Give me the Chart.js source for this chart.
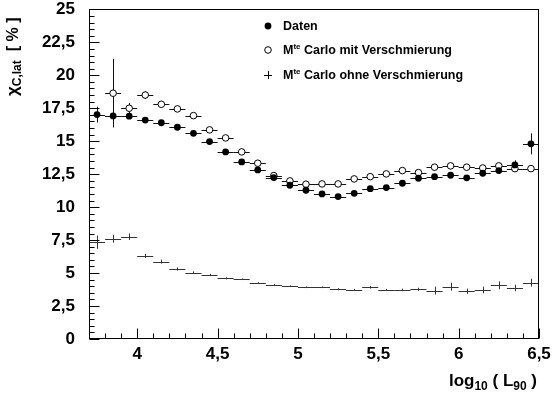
<!DOCTYPE html>
<html>
<head>
<meta charset="utf-8">
<script src="https://cdn.jsdelivr.net/npm/chart.js@4.4.1/dist/chart.umd.min.js"></script>
<style>
  html, body { margin: 0; padding: 0; background: #fff; }
  #chart { display: block; }
</style>
</head>
<body>
<canvas id="chart" width="552" height="397"></canvas>
<script>
// Bin centres of log10(L90), bin width 0.1
const binCenters = [3.75, 3.85, 3.95, 4.05, 4.15, 4.25, 4.35, 4.45, 4.55, 4.65,
                    4.75, 4.85, 4.95, 5.05, 5.15, 5.25, 5.35, 5.45, 5.55, 5.65,
                    5.75, 5.85, 5.95, 6.05, 6.15, 6.25, 6.35, 6.45];
const binHalfWidth = 0.05;

const daten = [17.02, 16.92, 16.9, 16.6, 16.4, 16.06, 15.6, 14.97, 14.19, 13.43,
               12.82, 12.24, 11.66, 11.28, 11.0, 10.8, 11.05, 11.4, 11.48, 11.81,
               12.19, 12.31, 12.42, 12.22, 12.57, 12.77, 13.2, 14.8];
const datenErr = [0.6, 0.2, 0.15, 0.12, 0.12, 0.12, 0.12, 0.12, 0.12, 0.12,
                  0.12, 0.12, 0.12, 0.12, 0.12, 0.12, 0.12, 0.12, 0.15, 0.15,
                  0.15, 0.15, 0.18, 0.2, 0.2, 0.25, 0.35, 0.8];

const mcMit = [null, 18.64, 17.5, 18.5, 17.8, 17.45, 16.94, 15.86, 15.25, 14.19,
               13.33, 12.39, 11.99, 11.74, 11.76, 11.76, 12.14, 12.31, 12.52, 12.77,
               12.62, 13.03, 13.13, 13.03, 12.97, 13.13, 12.92, 12.92];
const mcMitErr = [0, 2.6, 0.4, 0.3, 0.15, 0.15, 0.12, 0.12, 0.12, 0.12,
                  0.12, 0.12, 0.12, 0.12, 0.12, 0.12, 0.12, 0.12, 0.12, 0.12,
                  0.12, 0.12, 0.12, 0.12, 0.12, 0.12, 0.12, 0.12];

const mcOhne = [7.34, 7.61, 7.76, 6.3, 5.87, 5.31, 5.03, 4.86, 4.6, 4.53,
                4.25, 4.12, 4.0, 3.92, 3.92, 3.77, 3.72, 3.92, 3.72, 3.72,
                3.77, 3.67, 3.97, 3.62, 3.72, 4.07, 3.87, 4.27];
const mcOhneErr = [0.5, 0.3, 0.25, 0.15, 0.15, 0.12, 0.1, 0.08, 0.08, 0.06,
                   0.06, 0.06, 0.06, 0.06, 0.06, 0.08, 0.08, 0.1, 0.08, 0.1,
                   0.12, 0.3, 0.3, 0.2, 0.25, 0.3, 0.25, 0.3];

const xTicks = [4, 4.5, 5, 5.5, 6, 6.5];
const yTicks = [0, 2.5, 5, 7.5, 10, 12.5, 15, 17.5, 20, 22.5, 25];

const FONT = "'Liberation Sans', Arial, sans-serif";

function toPoints(values) {
    const pts = [];
    values.forEach((v, i) => {
        if (v !== null) pts.push({ x: binCenters[i], y: v, i: i });
    });
    return pts;
}

// Horizontal (bin width) and vertical (stat.) error bars, drawn under the markers
const errorBars = {
    id: 'errorBars',
    beforeDatasetsDraw(chart) {
        const { ctx, scales: { x, y } } = chart;
        ctx.save();
        ctx.lineWidth = 1;
        chart.data.datasets.forEach(ds => {
            ctx.strokeStyle = ds.errColor;
            ds.data.forEach(p => {
                const err = ds.yErr[p.i];
                const px = Math.round(x.getPixelForValue(p.x)) + 0.5;
                const py = Math.round(y.getPixelForValue(p.y)) + 0.5;
                ctx.beginPath();
                ctx.moveTo(x.getPixelForValue(p.x - binHalfWidth), py);
                ctx.lineTo(x.getPixelForValue(p.x + binHalfWidth), py);
                ctx.moveTo(px, y.getPixelForValue(p.y + err));
                ctx.lineTo(px, y.getPixelForValue(p.y - err));
                ctx.stroke();
            });
        });
        ctx.restore();
    }
};

function drawRich(ctx, parts, x, y, align) {
    let total = 0;
    parts.forEach(p => {
        ctx.font = 'bold ' + p.size + 'px ' + FONT;
        p.w = ctx.measureText(p.t).width;
        total += p.w;
    });
    let cx = align === 'right' ? x - total : x;
    ctx.textAlign = 'left';
    ctx.textBaseline = 'alphabetic';
    parts.forEach(p => {
        ctx.font = 'bold ' + p.size + 'px ' + FONT;
        ctx.fillText(p.t, cx, y + (p.dy || 0));
        cx += p.w;
    });
}

// Frame, inward ticks, legend and axis titles
const frame = {
    id: 'frame',
    afterDraw(chart) {
        const { ctx, chartArea: a, scales: { x, y } } = chart;
        ctx.save();
        ctx.strokeStyle = '#000';
        ctx.lineWidth = 1;
        const L = Math.round(a.left) + 0.5, R = Math.round(a.right) - 0.5;
        const T = Math.round(a.top) + 0.5, B = Math.round(a.bottom) - 0.5;
        ctx.strokeRect(L, T, R - L, B - T);

        ctx.beginPath();
        for (let k = 0; k <= 28; k++) {
            const v = 3.7 + k * 0.1;
            const px = Math.round(x.getPixelForValue(v)) + 0.5;
            const major = xTicks.some(t => Math.abs(t - v) < 1e-6);
            ctx.moveTo(px, B);
            ctx.lineTo(px, B - (major ? 10 : 5));
        }
        for (let k = 0; k <= 50; k++) {
            const v = k * 0.5;
            const py = Math.round(y.getPixelForValue(v)) + 0.5;
            const major = yTicks.some(t => Math.abs(t - v) < 1e-6);
            ctx.moveTo(L, py);
            ctx.lineTo(L + (major ? 10 : 5), py);
        }
        ctx.stroke();

        // legend
        const lx = 268, rows = [26, 50, 75];
        ctx.fillStyle = '#000';
        ctx.beginPath();
        ctx.arc(lx, rows[0], 3.4, 0, Math.PI * 2);
        ctx.fill();
        ctx.beginPath();
        ctx.arc(lx, rows[1], 3.3, 0, Math.PI * 2);
        ctx.fillStyle = '#fff';
        ctx.fill();
        ctx.stroke();
        ctx.beginPath();
        ctx.moveTo(lx - 4, rows[2] + 0.5);
        ctx.lineTo(lx + 4, rows[2] + 0.5);
        ctx.moveTo(lx + 0.5, rows[2] - 4);
        ctx.lineTo(lx + 0.5, rows[2] + 4);
        ctx.stroke();
        ctx.fillStyle = '#000';
        drawRich(ctx, [{ t: 'Daten', size: 12.5 }], 283, rows[0] + 4);
        drawRich(ctx, [{ t: 'M', size: 12.5 }, { t: 'te', size: 8, dy: -5 },
                       { t: ' Carlo mit Verschmierung', size: 12.5 }], 283, rows[1] + 4);
        drawRich(ctx, [{ t: 'M', size: 12.5 }, { t: 'te', size: 8, dy: -5 },
                       { t: ' Carlo ohne Verschmierung', size: 12.5 }], 283, rows[2] + 4);

        // x title
        drawRich(ctx, [{ t: 'log', size: 17 }, { t: '10', size: 12, dy: 4 },
                       { t: ' ( L', size: 17 }, { t: '90', size: 12, dy: 4 },
                       { t: ' )', size: 17 }], 537, 386, 'right');

        // y title
        ctx.translate(18, 96);
        ctx.rotate(-Math.PI / 2);
        drawRich(ctx, [{ t: 'χ', size: 17 }, { t: 'C,lat', size: 12, dy: 3 },
                       { t: '  [ % ]', size: 16 }], 0, 0);
        ctx.restore();
    }
};

const tickFont = { family: FONT, size: 17, weight: 'bold', lineHeight: 1.1 };
const fmt = v => String(v).replace('.', ',');

new Chart(document.getElementById('chart'), {
    type: 'scatter',
    data: {
        datasets: [{
            label: 'Daten',
            data: toPoints(daten),
            yErr: datenErr,
            errColor: '#111',
            pointRadius: 3.4,
            pointBackgroundColor: '#000',
            pointBorderWidth: 0
        }, {
            label: 'Mte Carlo mit Verschmierung',
            data: toPoints(mcMit),
            yErr: mcMitErr,
            errColor: '#111',
            pointRadius: 3.3,
            pointBackgroundColor: '#fff',
            pointBorderColor: '#000',
            pointBorderWidth: 1
        }, {
            label: 'Mte Carlo ohne Verschmierung',
            data: toPoints(mcOhne),
            yErr: mcOhneErr,
            errColor: '#333',
            pointRadius: 0
        }]
    },
    options: {
        responsive: false,
        animation: false,
        events: [],
        layout: { padding: { top: 0, right: 13, left: 0, bottom: 0 } },
        plugins: { legend: { display: false }, tooltip: { enabled: false } },
        scales: {
            x: {
                type: 'linear', min: 3.7, max: 6.5,
                afterBuildTicks: s => { s.ticks = xTicks.map(v => ({ value: v })); },
                afterFit: s => { s.height = 58; },
                // invisible tick marks only to space the labels; real ticks drawn in frame plugin
                grid: { display: false, drawTicks: true, tickLength: 6, tickColor: 'rgba(0,0,0,0)' },
                border: { display: false },
                ticks: { padding: 0, color: '#000', font: tickFont, callback: fmt,
                         maxRotation: 0, autoSkip: false }
            },
            y: {
                type: 'linear', min: 0, max: 25,
                afterBuildTicks: s => { s.ticks = yTicks.map(v => ({ value: v })); },
                afterFit: s => { s.width = 89; },
                grid: { display: false, drawTicks: true, tickLength: 14, tickColor: 'rgba(0,0,0,0)' },
                border: { display: false },
                ticks: { padding: 0, color: '#000', font: tickFont, callback: fmt }
            }
        }
    },
    plugins: [errorBars, frame]
});
</script>
</body>
</html>
